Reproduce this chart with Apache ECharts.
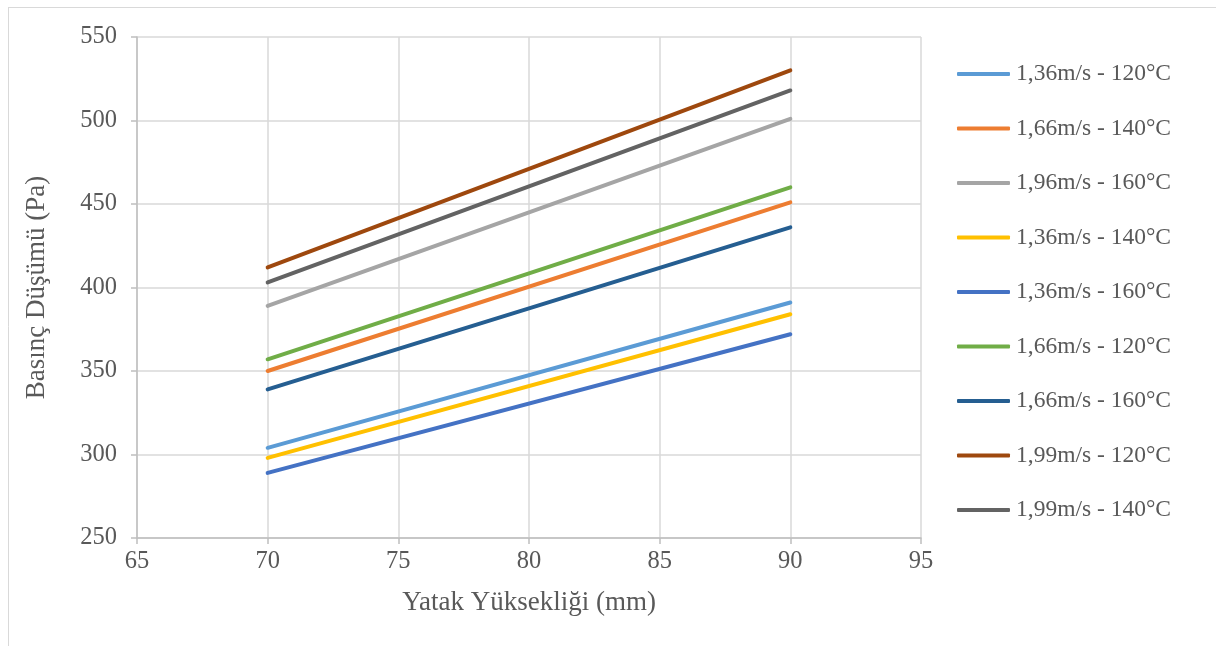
<!DOCTYPE html>
<html>
<head>
<meta charset="utf-8">
<script src="https://cdn.jsdelivr.net/npm/echarts@6/dist/echarts.min.js"></script>
<style>html,body{margin:0;padding:0;background:#fff}#c{width:1216px;height:646px}</style>
</head>
<body>
<div id="c"></div>
<script>
const xValues = [70, 90];
const seriesNames = [
  '1,36m/s - 120°C', '1,66m/s - 140°C', '1,96m/s - 160°C',
  '1,36m/s - 140°C', '1,36m/s - 160°C', '1,66m/s - 120°C',
  '1,66m/s - 160°C', '1,99m/s - 120°C', '1,99m/s - 140°C'
];
const s1 = [304, 391];
const s2 = [350, 451];
const s3 = [389, 501];
const s4 = [298, 384];
const s5 = [289, 372];
const s6 = [357, 460];
const s7 = [339, 436];
const s8 = [412, 530];
const s9 = [403, 518];
const seriesValues = [s1, s2, s3, s4, s5, s6, s7, s8, s9];
const colors = ['#5B9BD5', '#ED7D31', '#A5A5A5', '#FFC000', '#4472C4', '#70AD47', '#255E91', '#9E480E', '#636363'];

const font = 'Liberation Serif';
const chart = echarts.init(document.getElementById('c'));
chart.setOption({
  animation: false,
  backgroundColor: '#fff',
  color: colors,
  grid: { left: 137, right: 295, top: 37, bottom: 108, containLabel: false },
  graphic: [
    { type: 'line', shape: { x1: 8, y1: 7.5, x2: 1216, y2: 7.5 }, style: { stroke: '#d9d9d9', lineWidth: 1 } },
    { type: 'line', shape: { x1: 8.5, y1: 7, x2: 8.5, y2: 646 }, style: { stroke: '#d9d9d9', lineWidth: 1 } }
  ],
  xAxis: {
    type: 'value', min: 65, max: 95, interval: 5,
    name: 'Yatak Yüksekliği (mm)', nameLocation: 'middle', nameGap: 51,
    nameTextStyle: { fontFamily: font, fontSize: 27, color: '#595959' },
    axisLine: { show: true, lineStyle: { color: '#bfbfbf', width: 1.5 } },
    axisTick: { show: true, inside: false, length: 6, lineStyle: { color: '#bfbfbf', width: 1.5 } },
    axisLabel: { fontFamily: font, fontSize: 24.5, color: '#595959', margin: 11 },
    splitLine: { show: true, lineStyle: { color: '#d9d9d9', width: 1.5 } }
  },
  yAxis: {
    type: 'value', min: 250, max: 550, interval: 50,
    name: 'Basınç Düşümü (Pa)', nameLocation: 'middle', nameGap: 87, nameRotate: 90,
    nameTextStyle: { fontFamily: font, fontSize: 27, color: '#595959' },
    axisLine: { show: true, lineStyle: { color: '#bfbfbf', width: 1.5 } },
    axisTick: { show: true, inside: false, length: 6, lineStyle: { color: '#bfbfbf', width: 1.5 } },
    axisLabel: { fontFamily: font, fontSize: 24.5, color: '#595959', margin: 20 },
    splitLine: { show: true, lineStyle: { color: '#d9d9d9', width: 1.5 } }
  },
  legend: {
    orient: 'vertical', left: 952, top: 57,
    icon: 'roundRect',
    itemWidth: 53, itemHeight: 4, itemGap: 30.5,
    data: seriesNames,
    textStyle: { fontFamily: font, fontSize: 23.5, color: '#595959', padding: [0, 0, 0, 1] }
  },
  series: seriesNames.map((n, i) => ({
    name: n, type: 'line', symbol: 'none', showSymbol: false,
    lineStyle: { width: 4, color: colors[i], cap: 'round' },
    itemStyle: { color: colors[i] },
    data: xValues.map((x, j) => [x, seriesValues[i][j]])
  }))
});
</script>
</body>
</html>
